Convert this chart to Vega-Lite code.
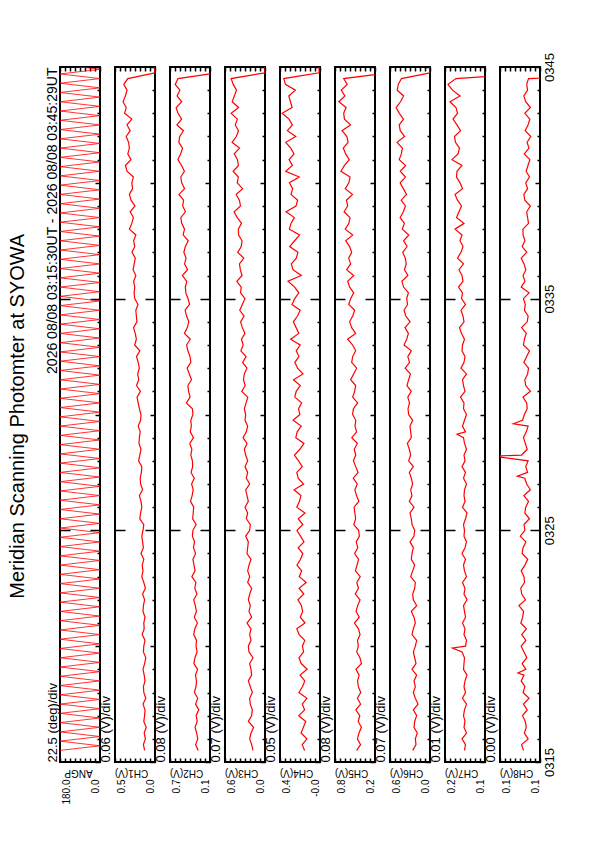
{
  "$schema": "https://vega.github.io/schema/vega-lite/v6.json",
  "background": "white",
  "padding": {"left": 7, "top": 51, "right": 5, "bottom": 5},
  "title": {"text": "Meridian Scanning Photomter at SYOWA", "orient": "left", "anchor": "middle", "fontSize": 20, "font": "Liberation Sans", "fontWeight": "normal", "color": "black", "offset": 16, "dx": 12},
  "spacing": 15,
  "bounds": "flush",
  "datasets": {
    "angp": [
      {"t":15.5,"v":180},{"t":15.7,"v":0},{"t":15.9,"v":180},
      {"t":16.1,"v":0},{"t":16.3,"v":180},{"t":16.5,"v":0},{"t":16.7,"v":180},{"t":16.9,"v":0},
      {"t":17.1,"v":180},{"t":17.3,"v":0},{"t":17.5,"v":180},{"t":17.7,"v":0},{"t":17.9,"v":180},
      {"t":18.1,"v":0},{"t":18.3,"v":180},{"t":18.5,"v":0},{"t":18.7,"v":180},{"t":18.9,"v":0},
      {"t":19.1,"v":180},{"t":19.3,"v":0},{"t":19.5,"v":180},{"t":19.7,"v":0},{"t":19.9,"v":180},
      {"t":20.1,"v":0},{"t":20.3,"v":180},{"t":20.5,"v":0},{"t":20.7,"v":180},{"t":20.9,"v":0},
      {"t":21.1,"v":180},{"t":21.3,"v":0},{"t":21.5,"v":180},{"t":21.7,"v":0},{"t":21.9,"v":180},
      {"t":22.1,"v":0},{"t":22.3,"v":180},{"t":22.5,"v":0},{"t":22.7,"v":180},{"t":22.9,"v":0},
      {"t":23.1,"v":180},{"t":23.3,"v":0},{"t":23.5,"v":180},{"t":23.7,"v":0},{"t":23.9,"v":180},
      {"t":24.1,"v":0},{"t":24.3,"v":180},{"t":24.5,"v":0},{"t":24.7,"v":180},{"t":24.9,"v":0},
      {"t":25.1,"v":180},{"t":25.3,"v":0},{"t":25.5,"v":180},{"t":25.7,"v":0},{"t":25.9,"v":180},
      {"t":26.1,"v":0},{"t":26.3,"v":180},{"t":26.5,"v":0},{"t":26.7,"v":180},{"t":26.9,"v":0},
      {"t":27.1,"v":180},{"t":27.3,"v":0},{"t":27.5,"v":180},{"t":27.7,"v":0},{"t":27.9,"v":180},
      {"t":28.1,"v":0},{"t":28.3,"v":180},{"t":28.5,"v":0},{"t":28.7,"v":180},{"t":28.9,"v":0},
      {"t":29.1,"v":180},{"t":29.3,"v":0},{"t":29.5,"v":180},{"t":29.7,"v":0},{"t":29.9,"v":180},
      {"t":30.1,"v":0},{"t":30.3,"v":180},{"t":30.5,"v":0},{"t":30.7,"v":180},{"t":30.9,"v":0},
      {"t":31.1,"v":180},{"t":31.3,"v":0},{"t":31.5,"v":180},{"t":31.7,"v":0},{"t":31.9,"v":180},
      {"t":32.1,"v":0},{"t":32.3,"v":180},{"t":32.5,"v":0},{"t":32.7,"v":180},{"t":32.9,"v":0},
      {"t":33.1,"v":180},{"t":33.3,"v":0},{"t":33.5,"v":180},{"t":33.7,"v":0},{"t":33.9,"v":180},
      {"t":34.1,"v":0},{"t":34.3,"v":180},{"t":34.5,"v":0},{"t":34.7,"v":180},{"t":34.9,"v":0},
      {"t":35.1,"v":180},{"t":35.3,"v":0},{"t":35.5,"v":180},{"t":35.7,"v":0},{"t":35.9,"v":180},
      {"t":36.1,"v":0},{"t":36.3,"v":180},{"t":36.5,"v":0},{"t":36.7,"v":180},{"t":36.9,"v":0},
      {"t":37.1,"v":180},{"t":37.3,"v":0},{"t":37.5,"v":180},{"t":37.7,"v":0},{"t":37.9,"v":180},
      {"t":38.1,"v":0},{"t":38.3,"v":180},{"t":38.5,"v":0},{"t":38.7,"v":180},{"t":38.9,"v":0},
      {"t":39.1,"v":180},{"t":39.3,"v":0},{"t":39.5,"v":180},{"t":39.7,"v":0},{"t":39.9,"v":180},
      {"t":40.1,"v":0},{"t":40.3,"v":180},{"t":40.5,"v":0},{"t":40.7,"v":180},{"t":40.9,"v":0},
      {"t":41.1,"v":180},{"t":41.3,"v":0},{"t":41.5,"v":180},{"t":41.7,"v":0},{"t":41.9,"v":180},
      {"t":42.1,"v":0},{"t":42.3,"v":180},{"t":42.5,"v":0},{"t":42.7,"v":180},{"t":42.9,"v":0},
      {"t":43.1,"v":180},{"t":43.3,"v":0},{"t":43.5,"v":180},{"t":43.7,"v":0},{"t":43.9,"v":180},
      {"t":44.1,"v":0},{"t":44.3,"v":180},{"t":44.5,"v":0},{"t":44.7,"v":180},{"t":44.9,"v":0},
      {"t":45.1,"v":180},{"t":45.3,"v":0},{"t":45.5,"v":180}
    ],
    "ch1": [
      {"t":15.5,"v":0.13},{"t":15.75,"v":0.145},{"t":16,"v":0.12},{"t":16.25,"v":0.135},{"t":16.5,"v":0.11},{"t":16.75,"v":0.14},{"t":17,"v":0.13},{"t":17.25,"v":0.125},{"t":17.5,"v":0.15},{"t":17.75,"v":0.115},
      {"t":18,"v":0.14},{"t":18.25,"v":0.145},{"t":18.5,"v":0.125},{"t":18.75,"v":0.135},{"t":19,"v":0.15},{"t":19.25,"v":0.13},{"t":19.5,"v":0.115},{"t":19.75,"v":0.145},{"t":20,"v":0.14},{"t":20.25,"v":0.125},
      {"t":20.5,"v":0.16},{"t":20.75,"v":0.135},{"t":21,"v":0.14},{"t":21.25,"v":0.125},{"t":21.5,"v":0.15},{"t":21.75,"v":0.145},{"t":22,"v":0.13},{"t":22.25,"v":0.155},{"t":22.5,"v":0.12},{"t":22.75,"v":0.14},
      {"t":23,"v":0.165},{"t":23.25,"v":0.15},{"t":23.5,"v":0.16},{"t":23.75,"v":0.14},{"t":24,"v":0.175},{"t":24.25,"v":0.145},{"t":24.5,"v":0.155},{"t":24.75,"v":0.165},{"t":25,"v":0.15},{"t":25.25,"v":0.14},
      {"t":25.5,"v":0.19},{"t":25.75,"v":0.18},{"t":26,"v":0.165},{"t":26.25,"v":0.175},{"t":26.5,"v":0.195},{"t":26.75,"v":0.155},{"t":27,"v":0.18},{"t":27.25,"v":0.185},{"t":27.5,"v":0.17},{"t":27.75,"v":0.165},
      {"t":28,"v":0.205},{"t":28.25,"v":0.19},{"t":28.5,"v":0.175},{"t":28.75,"v":0.2},{"t":29,"v":0.195},{"t":29.25,"v":0.185},{"t":29.5,"v":0.21},{"t":29.75,"v":0.18},{"t":30,"v":0.175},{"t":30.25,"v":0.195},
      {"t":30.5,"v":0.21},{"t":30.75,"v":0.224},{"t":31,"v":0.182},{"t":31.25,"v":0.231},{"t":31.5,"v":0.203},{"t":31.75,"v":0.217},{"t":32,"v":0.196},{"t":32.25,"v":0.21},{"t":32.5,"v":0.231},{"t":32.75,"v":0.189},
      {"t":33,"v":0.254},{"t":33.25,"v":0.233},{"t":33.5,"v":0.247},{"t":33.75,"v":0.268},{"t":34,"v":0.226},{"t":34.25,"v":0.233},{"t":34.5,"v":0.24},{"t":34.75,"v":0.212},{"t":35,"v":0.254},{"t":35.25,"v":0.261},
      {"t":35.5,"v":0.253},{"t":35.75,"v":0.267},{"t":36,"v":0.239},{"t":36.25,"v":0.274},{"t":36.5,"v":0.26},{"t":36.75,"v":0.246},{"t":37,"v":0.288},{"t":37.25,"v":0.253},{"t":37.5,"v":0.267},{"t":37.75,"v":0.239},
      {"t":38,"v":0.32},{"t":38.25,"v":0.29},{"t":38.5,"v":0.27},{"t":38.75,"v":0.31},{"t":39,"v":0.25},{"t":39.25,"v":0.3},{"t":39.5,"v":0.32},{"t":39.75,"v":0.28},{"t":40,"v":0.29},{"t":40.25,"v":0.27},
      {"t":40.5,"v":0.35},{"t":40.75,"v":0.37},{"t":41,"v":0.3},{"t":41.25,"v":0.34},{"t":41.5,"v":0.32},{"t":41.75,"v":0.33},{"t":42,"v":0.36},{"t":42.25,"v":0.31},{"t":42.5,"v":0.35},{"t":42.75,"v":0.29},
      {"t":43,"v":0.38},{"t":43.25,"v":0.36},{"t":43.5,"v":0.4},{"t":43.75,"v":0.37},{"t":44,"v":0.35},{"t":44.25,"v":0.39},{"t":44.5,"v":0.34},
      {"t":44.75,"v":0},{"t":45,"v":0},{"t":45.25,"v":0},{"t":45.5,"v":0}
    ],
    "ch2": [
      {"t":15.5,"v":0.276},{"t":15.75,"v":0.316},{"t":16,"v":0.284},{"t":16.25,"v":0.3},{"t":16.5,"v":0.324},{"t":16.75,"v":0.292},{"t":17,"v":0.308},{"t":17.25,"v":0.268},{"t":17.5,"v":0.316},{"t":17.75,"v":0.284},
      {"t":18,"v":0.334},{"t":18.25,"v":0.31},{"t":18.5,"v":0.302},{"t":18.75,"v":0.318},{"t":19,"v":0.286},{"t":19.25,"v":0.342},{"t":19.5,"v":0.326},{"t":19.75,"v":0.294},{"t":20,"v":0.31},{"t":20.25,"v":0.302},
      {"t":20.5,"v":0.344},{"t":20.75,"v":0.328},{"t":21,"v":0.288},{"t":21.25,"v":0.336},{"t":21.5,"v":0.304},{"t":21.75,"v":0.32},{"t":22,"v":0.344},{"t":22.25,"v":0.296},{"t":22.5,"v":0.328},{"t":22.75,"v":0.312},
      {"t":23,"v":0.372},{"t":23.25,"v":0.324},{"t":23.5,"v":0.34},{"t":23.75,"v":0.356},{"t":24,"v":0.316},{"t":24.25,"v":0.348},{"t":24.5,"v":0.332},{"t":24.75,"v":0.364},{"t":25,"v":0.356},{"t":25.25,"v":0.308},
      {"t":25.5,"v":0.36},{"t":25.75,"v":0.352},{"t":26,"v":0.344},{"t":26.25,"v":0.392},{"t":26.5,"v":0.368},{"t":26.75,"v":0.352},{"t":27,"v":0.376},{"t":27.25,"v":0.336},{"t":27.5,"v":0.384},{"t":27.75,"v":0.36},
      {"t":28,"v":0.364},{"t":28.25,"v":0.388},{"t":28.5,"v":0.372},{"t":28.75,"v":0.404},{"t":29,"v":0.348},{"t":29.25,"v":0.396},{"t":29.5,"v":0.38},{"t":29.75,"v":0.388},{"t":30,"v":0.356},{"t":30.25,"v":0.364},
      {"t":30.5,"v":0.454},{"t":30.75,"v":0.399},{"t":31,"v":0.421},{"t":31.25,"v":0.432},{"t":31.5,"v":0.377},{"t":31.75,"v":0.41},{"t":32,"v":0.443},{"t":32.25,"v":0.388},{"t":32.5,"v":0.399},{"t":32.75,"v":0.432},
      {"t":33,"v":0.451},{"t":33.25,"v":0.396},{"t":33.5,"v":0.484},{"t":33.75,"v":0.44},{"t":34,"v":0.418},{"t":34.25,"v":0.451},{"t":34.5,"v":0.473},{"t":34.75,"v":0.407},{"t":35,"v":0.429},{"t":35.25,"v":0.462},
      {"t":35.5,"v":0.47},{"t":35.75,"v":0.448},{"t":36,"v":0.514},{"t":36.25,"v":0.437},{"t":36.5,"v":0.481},{"t":36.75,"v":0.459},{"t":37,"v":0.492},{"t":37.25,"v":0.47},{"t":37.5,"v":0.426},{"t":37.75,"v":0.503},
      {"t":38,"v":0.482},{"t":38.25,"v":0.524},{"t":38.5,"v":0.538},{"t":38.75,"v":0.468},{"t":39,"v":0.51},{"t":39.25,"v":0.496},{"t":39.5,"v":0.566},{"t":39.75,"v":0.482},{"t":40,"v":0.524},{"t":40.25,"v":0.538},
      {"t":40.5,"v":0.484},{"t":40.75,"v":0.526},{"t":41,"v":0.582},{"t":41.25,"v":0.54},{"t":41.5,"v":0.512},{"t":41.75,"v":0.568},{"t":42,"v":0.554},{"t":42.25,"v":0.498},{"t":42.5,"v":0.596},{"t":42.75,"v":0.526},
      {"t":43,"v":0.58},{"t":43.25,"v":0.608},{"t":43.5,"v":0.524},{"t":43.75,"v":0.594},{"t":44,"v":0.552},{"t":44.25,"v":0.622},{"t":44.5,"v":0.58},
      {"t":44.75,"v":0},{"t":45,"v":0},{"t":45.25,"v":0},{"t":45.5,"v":0}
    ],
    "ch3": [
      {"t":15.5,"v":0.18},{"t":15.75,"v":0.2},{"t":16,"v":0.23},{"t":16.25,"v":0.21},{"t":16.5,"v":0.17},{"t":16.75,"v":0.25},{"t":17,"v":0.2},{"t":17.25,"v":0.19},{"t":17.5,"v":0.22},{"t":17.75,"v":0.23},
      {"t":18,"v":0.19},{"t":18.25,"v":0.22},{"t":18.5,"v":0.25},{"t":18.75,"v":0.2},{"t":19,"v":0.21},{"t":19.25,"v":0.23},{"t":19.5,"v":0.18},{"t":19.75,"v":0.24},{"t":20,"v":0.25},{"t":20.25,"v":0.21},
      {"t":20.5,"v":0.23},{"t":20.75,"v":0.21},{"t":21,"v":0.27},{"t":21.25,"v":0.2},{"t":21.5,"v":0.24},{"t":21.75,"v":0.22},{"t":22,"v":0.25},{"t":22.25,"v":0.23},{"t":22.5,"v":0.2},{"t":22.75,"v":0.26},
      {"t":23,"v":0.23},{"t":23.25,"v":0.26},{"t":23.5,"v":0.24},{"t":23.75,"v":0.21},{"t":24,"v":0.27},{"t":24.25,"v":0.26},{"t":24.5,"v":0.25},{"t":24.75,"v":0.29},{"t":25,"v":0.23},{"t":25.25,"v":0.22},
      {"t":25.5,"v":0.28},{"t":25.75,"v":0.26},{"t":26,"v":0.3},{"t":26.25,"v":0.25},{"t":26.5,"v":0.27},{"t":26.75,"v":0.29},{"t":27,"v":0.23},{"t":27.25,"v":0.28},{"t":27.5,"v":0.26},{"t":27.75,"v":0.3},
      {"t":28,"v":0.26},{"t":28.25,"v":0.29},{"t":28.5,"v":0.31},{"t":28.75,"v":0.27},{"t":29,"v":0.33},{"t":29.25,"v":0.28},{"t":29.5,"v":0.26},{"t":29.75,"v":0.3},{"t":30,"v":0.29},{"t":30.25,"v":0.31},
      {"t":30.5,"v":0.284},{"t":30.75,"v":0.258},{"t":31,"v":0.349},{"t":31.25,"v":0.297},{"t":31.5,"v":0.323},{"t":31.75,"v":0.31},{"t":32,"v":0.271},{"t":32.25,"v":0.336},{"t":32.5,"v":0.284},{"t":32.75,"v":0.362},
      {"t":33,"v":0.327},{"t":33.25,"v":0.353},{"t":33.5,"v":0.301},{"t":33.75,"v":0.34},{"t":34,"v":0.366},{"t":34.25,"v":0.314},{"t":34.5,"v":0.379},{"t":34.75,"v":0.34},{"t":35,"v":0.301},{"t":35.25,"v":0.366},
      {"t":35.5,"v":0.357},{"t":35.75,"v":0.422},{"t":36,"v":0.344},{"t":36.25,"v":0.37},{"t":36.5,"v":0.383},{"t":36.75,"v":0.318},{"t":37,"v":0.409},{"t":37.25,"v":0.357},{"t":37.5,"v":0.344},{"t":37.75,"v":0.396},
      {"t":38,"v":0.4},{"t":38.25,"v":0.352},{"t":38.5,"v":0.416},{"t":38.75,"v":0.464},{"t":39,"v":0.368},{"t":39.25,"v":0.384},{"t":39.5,"v":0.432},{"t":39.75,"v":0.336},{"t":40,"v":0.416},{"t":40.25,"v":0.4},
      {"t":40.5,"v":0.478},{"t":40.75,"v":0.398},{"t":41,"v":0.414},{"t":41.25,"v":0.462},{"t":41.5,"v":0.382},{"t":41.75,"v":0.494},{"t":42,"v":0.43},{"t":42.25,"v":0.398},{"t":42.5,"v":0.446},{"t":42.75,"v":0.414},
      {"t":43,"v":0.508},{"t":43.25,"v":0.396},{"t":43.5,"v":0.492},{"t":43.75,"v":0.46},{"t":44,"v":0.428},{"t":44.25,"v":0.476},{"t":44.5,"v":0.508},
      {"t":44.75,"v":0},{"t":45,"v":0},{"t":45.25,"v":0},{"t":45.5,"v":0}
    ],
    "ch4": [
      {"t":15.5,"v":0.148},{"t":15.75,"v":0.172},{"t":16,"v":0.124},{"t":16.25,"v":0.184},{"t":16.5,"v":0.16},{"t":16.75,"v":0.136},{"t":17,"v":0.208},{"t":17.25,"v":0.148},{"t":17.5,"v":0.172},{"t":17.75,"v":0.124},
      {"t":18,"v":0.206},{"t":18.25,"v":0.17},{"t":18.5,"v":0.146},{"t":18.75,"v":0.194},{"t":19,"v":0.122},{"t":19.25,"v":0.182},{"t":19.5,"v":0.206},{"t":19.75,"v":0.158},{"t":20,"v":0.17},{"t":20.25,"v":0.146},
      {"t":20.5,"v":0.204},{"t":20.75,"v":0.228},{"t":21,"v":0.144},{"t":21.25,"v":0.192},{"t":21.5,"v":0.168},{"t":21.75,"v":0.18},{"t":22,"v":0.216},{"t":22.25,"v":0.156},{"t":22.5,"v":0.204},{"t":22.75,"v":0.132},
      {"t":23,"v":0.202},{"t":23.25,"v":0.178},{"t":23.5,"v":0.226},{"t":23.75,"v":0.19},{"t":24,"v":0.166},{"t":24.25,"v":0.214},{"t":24.5,"v":0.154},{"t":24.75,"v":0.19},{"t":25,"v":0.226},{"t":25.25,"v":0.166},
      {"t":25.5,"v":0.214},{"t":25.75,"v":0.144},{"t":26,"v":0.228},{"t":26.25,"v":0.2},{"t":26.5,"v":0.186},{"t":26.75,"v":0.256},{"t":27,"v":0.158},{"t":27.25,"v":0.214},{"t":27.5,"v":0.228},{"t":27.75,"v":0.172},
      {"t":28,"v":0.21},{"t":28.25,"v":0.252},{"t":28.5,"v":0.196},{"t":28.75,"v":0.154},{"t":29,"v":0.238},{"t":29.25,"v":0.224},{"t":29.5,"v":0.182},{"t":29.75,"v":0.266},{"t":30,"v":0.196},{"t":30.25,"v":0.21},
      {"t":30.5,"v":0.178},{"t":30.75,"v":0.248},{"t":31,"v":0.234},{"t":31.25,"v":0.192},{"t":31.5,"v":0.262},{"t":31.75,"v":0.164},{"t":32,"v":0.22},{"t":32.25,"v":0.248},{"t":32.5,"v":0.206},{"t":32.75,"v":0.234},
      {"t":33,"v":0.193},{"t":33.25,"v":0.291},{"t":33.5,"v":0.207},{"t":33.75,"v":0.235},{"t":34,"v":0.263},{"t":34.25,"v":0.221},{"t":34.5,"v":0.193},{"t":34.75,"v":0.277},{"t":35,"v":0.249},{"t":35.25,"v":0.207},
      {"t":35.5,"v":0.25},{"t":35.75,"v":0.318},{"t":36,"v":0.182},{"t":36.25,"v":0.267},{"t":36.5,"v":0.284},{"t":36.75,"v":0.233},{"t":37,"v":0.216},{"t":37.25,"v":0.301},{"t":37.5,"v":0.25},{"t":37.75,"v":0.199},
      {"t":38,"v":0.304},{"t":38.25,"v":0.287},{"t":38.5,"v":0.253},{"t":38.75,"v":0.338},{"t":39,"v":0.236},{"t":39.25,"v":0.219},{"t":39.5,"v":0.287},{"t":39.75,"v":0.27},{"t":40,"v":0.304},{"t":40.25,"v":0.202},
      {"t":40.5,"v":0.341},{"t":40.75,"v":0.273},{"t":41,"v":0.307},{"t":41.25,"v":0.256},{"t":41.5,"v":0.29},{"t":41.75,"v":0.341},{"t":42,"v":0.239},{"t":42.25,"v":0.324},{"t":42.5,"v":0.273},{"t":42.75,"v":0.307},
      {"t":43,"v":0.378},{"t":43.25,"v":0.276},{"t":43.5,"v":0.293},{"t":43.75,"v":0.31},{"t":44,"v":0.242},{"t":44.25,"v":0.344},{"t":44.5,"v":0.361},
      {"t":44.75,"v":0},{"t":45,"v":0},{"t":45.25,"v":0},{"t":45.5,"v":0}
    ],
    "ch5": [
      {"t":15.5,"v":0.476},{"t":15.75,"v":0.416},{"t":16,"v":0.464},{"t":16.25,"v":0.44},{"t":16.5,"v":0.404},{"t":16.75,"v":0.452},{"t":17,"v":0.428},{"t":17.25,"v":0.488},{"t":17.5,"v":0.416},{"t":17.75,"v":0.464},
      {"t":18,"v":0.414},{"t":18.25,"v":0.45},{"t":18.5,"v":0.462},{"t":18.75,"v":0.438},{"t":19,"v":0.486},{"t":19.25,"v":0.402},{"t":19.5,"v":0.426},{"t":19.75,"v":0.474},{"t":20,"v":0.45},{"t":20.25,"v":0.462},
      {"t":20.5,"v":0.424},{"t":20.75,"v":0.448},{"t":21,"v":0.508},{"t":21.25,"v":0.436},{"t":21.5,"v":0.484},{"t":21.75,"v":0.46},{"t":22,"v":0.424},{"t":22.25,"v":0.496},{"t":22.5,"v":0.448},{"t":22.75,"v":0.472},
      {"t":23,"v":0.422},{"t":23.25,"v":0.494},{"t":23.5,"v":0.47},{"t":23.75,"v":0.446},{"t":24,"v":0.506},{"t":24.25,"v":0.458},{"t":24.5,"v":0.482},{"t":24.75,"v":0.434},{"t":25,"v":0.446},{"t":25.25,"v":0.518},
      {"t":25.5,"v":0.49},{"t":25.75,"v":0.502},{"t":26,"v":0.514},{"t":26.25,"v":0.442},{"t":26.5,"v":0.478},{"t":26.75,"v":0.502},{"t":27,"v":0.466},{"t":27.25,"v":0.526},{"t":27.5,"v":0.454},{"t":27.75,"v":0.49},
      {"t":28,"v":0.524},{"t":28.25,"v":0.488},{"t":28.5,"v":0.512},{"t":28.75,"v":0.464},{"t":29,"v":0.548},{"t":29.25,"v":0.476},{"t":29.5,"v":0.5},{"t":29.75,"v":0.488},{"t":30,"v":0.536},{"t":30.25,"v":0.524},
      {"t":30.5,"v":0.46},{"t":30.75,"v":0.535},{"t":31,"v":0.505},{"t":31.25,"v":0.49},{"t":31.5,"v":0.565},{"t":31.75,"v":0.52},{"t":32,"v":0.475},{"t":32.25,"v":0.55},{"t":32.5,"v":0.535},{"t":32.75,"v":0.49},
      {"t":33,"v":0.535},{"t":33.25,"v":0.61},{"t":33.5,"v":0.49},{"t":33.75,"v":0.55},{"t":34,"v":0.58},{"t":34.25,"v":0.535},{"t":34.5,"v":0.505},{"t":34.75,"v":0.595},{"t":35,"v":0.565},{"t":35.25,"v":0.52},
      {"t":35.5,"v":0.58},{"t":35.75,"v":0.61},{"t":36,"v":0.52},{"t":36.25,"v":0.625},{"t":36.5,"v":0.565},{"t":36.75,"v":0.595},{"t":37,"v":0.55},{"t":37.25,"v":0.58},{"t":37.5,"v":0.64},{"t":37.75,"v":0.535},
      {"t":38,"v":0.646},{"t":38.25,"v":0.592},{"t":38.5,"v":0.574},{"t":38.75,"v":0.664},{"t":39,"v":0.61},{"t":39.25,"v":0.628},{"t":39.5,"v":0.538},{"t":39.75,"v":0.646},{"t":40,"v":0.592},{"t":40.25,"v":0.574},
      {"t":40.5,"v":0.712},{"t":40.75,"v":0.658},{"t":41,"v":0.586},{"t":41.25,"v":0.64},{"t":41.5,"v":0.676},{"t":41.75,"v":0.604},{"t":42,"v":0.622},{"t":42.25,"v":0.694},{"t":42.5,"v":0.568},{"t":42.75,"v":0.658},
      {"t":43,"v":0.67},{"t":43.25,"v":0.634},{"t":43.5,"v":0.742},{"t":43.75,"v":0.652},{"t":44,"v":0.706},{"t":44.25,"v":0.616},{"t":44.5,"v":0.67},
      {"t":44.75,"v":0},{"t":45,"v":0},{"t":45.25,"v":0},{"t":45.5,"v":0}
    ],
    "ch6": [
      {"t":15.5,"v":0.26},{"t":15.75,"v":0.21},{"t":16,"v":0.22},{"t":16.25,"v":0.19},{"t":16.5,"v":0.24},{"t":16.75,"v":0.23},{"t":17,"v":0.2},{"t":17.25,"v":0.25},{"t":17.5,"v":0.18},{"t":17.75,"v":0.22},
      {"t":18,"v":0.25},{"t":18.25,"v":0.22},{"t":18.5,"v":0.24},{"t":18.75,"v":0.2},{"t":19,"v":0.27},{"t":19.25,"v":0.21},{"t":19.5,"v":0.23},{"t":19.75,"v":0.25},{"t":20,"v":0.22},{"t":20.25,"v":0.2},
      {"t":20.5,"v":0.27},{"t":20.75,"v":0.25},{"t":21,"v":0.22},{"t":21.25,"v":0.24},{"t":21.5,"v":0.28},{"t":21.75,"v":0.2},{"t":22,"v":0.25},{"t":22.25,"v":0.26},{"t":22.5,"v":0.23},{"t":22.75,"v":0.22},
      {"t":23,"v":0.29},{"t":23.25,"v":0.26},{"t":23.5,"v":0.23},{"t":23.75,"v":0.28},{"t":24,"v":0.27},{"t":24.25,"v":0.25},{"t":24.5,"v":0.3},{"t":24.75,"v":0.24},{"t":25,"v":0.23},{"t":25.25,"v":0.27},
      {"t":25.5,"v":0.28},{"t":25.75,"v":0.3},{"t":26,"v":0.24},{"t":26.25,"v":0.31},{"t":26.5,"v":0.27},{"t":26.75,"v":0.29},{"t":27,"v":0.26},{"t":27.25,"v":0.28},{"t":27.5,"v":0.31},{"t":27.75,"v":0.25},
      {"t":28,"v":0.32},{"t":28.25,"v":0.29},{"t":28.5,"v":0.31},{"t":28.75,"v":0.34},{"t":29,"v":0.28},{"t":29.25,"v":0.29},{"t":29.5,"v":0.3},{"t":29.75,"v":0.26},{"t":30,"v":0.32},{"t":30.25,"v":0.33},
      {"t":30.5,"v":0.307},{"t":30.75,"v":0.333},{"t":31,"v":0.281},{"t":31.25,"v":0.346},{"t":31.5,"v":0.32},{"t":31.75,"v":0.294},{"t":32,"v":0.372},{"t":32.25,"v":0.307},{"t":32.5,"v":0.333},{"t":32.75,"v":0.281},
      {"t":33,"v":0.389},{"t":33.25,"v":0.35},{"t":33.5,"v":0.324},{"t":33.75,"v":0.376},{"t":34,"v":0.298},{"t":34.25,"v":0.363},{"t":34.5,"v":0.389},{"t":34.75,"v":0.337},{"t":35,"v":0.35},{"t":35.25,"v":0.324},
      {"t":35.5,"v":0.396},{"t":35.75,"v":0.422},{"t":36,"v":0.331},{"t":36.25,"v":0.383},{"t":36.5,"v":0.357},{"t":36.75,"v":0.37},{"t":37,"v":0.409},{"t":37.25,"v":0.344},{"t":37.5,"v":0.396},{"t":37.75,"v":0.318},
      {"t":38,"v":0.416},{"t":38.25,"v":0.384},{"t":38.5,"v":0.448},{"t":38.75,"v":0.4},{"t":39,"v":0.368},{"t":39.25,"v":0.432},{"t":39.5,"v":0.352},{"t":39.75,"v":0.4},{"t":40,"v":0.448},{"t":40.25,"v":0.368},
      {"t":40.5,"v":0.446},{"t":40.75,"v":0.366},{"t":41,"v":0.462},{"t":41.25,"v":0.43},{"t":41.5,"v":0.414},{"t":41.75,"v":0.494},{"t":42,"v":0.382},{"t":42.25,"v":0.446},{"t":42.5,"v":0.462},{"t":42.75,"v":0.398},
      {"t":43,"v":0.46},{"t":43.25,"v":0.508},{"t":43.5,"v":0.444},{"t":43.75,"v":0.396},{"t":44,"v":0.492},{"t":44.25,"v":0.476},{"t":44.5,"v":0.428},
      {"t":44.75,"v":0},{"t":45,"v":0},{"t":45.25,"v":0},{"t":45.5,"v":0}
    ],
    "ch7": [
      {"t":15.5,"v":0.151},{"t":15.75,"v":0.149},{"t":16,"v":0.156},{"t":16.25,"v":0.147},{"t":16.5,"v":0.152},{"t":16.75,"v":0.15},{"t":17,"v":0.153},{"t":17.25,"v":0.151},{"t":17.5,"v":0.147},{"t":17.75,"v":0.155},
      {"t":18,"v":0.149},{"t":18.25,"v":0.152},{"t":18.5,"v":0.15},{"t":18.75,"v":0.146},{"t":19,"v":0.153},{"t":19.25,"v":0.152},{"t":19.5,"v":0.151},{"t":19.75,"v":0.156},{"t":19.92,"v":0.175},{"t":20,"v":0.149},{"t":20.25,"v":0.147},
      {"t":20.5,"v":0.152},{"t":20.75,"v":0.15},{"t":21,"v":0.155},{"t":21.25,"v":0.149},{"t":21.5,"v":0.151},{"t":21.75,"v":0.153},{"t":22,"v":0.146},{"t":22.25,"v":0.152},{"t":22.5,"v":0.15},{"t":22.75,"v":0.155},
      {"t":23,"v":0.147},{"t":23.25,"v":0.151},{"t":23.5,"v":0.153},{"t":23.75,"v":0.149},{"t":24,"v":0.156},{"t":24.25,"v":0.15},{"t":24.5,"v":0.147},{"t":24.75,"v":0.152},{"t":25,"v":0.151},{"t":25.25,"v":0.153},
      {"t":25.5,"v":0.149},{"t":25.75,"v":0.146},{"t":26,"v":0.155},{"t":26.25,"v":0.15},{"t":26.5,"v":0.152},{"t":26.75,"v":0.151},{"t":27,"v":0.147},{"t":27.25,"v":0.153},{"t":27.5,"v":0.149},{"t":27.75,"v":0.156},
      {"t":28,"v":0.15},{"t":28.25,"v":0.152},{"t":28.5,"v":0.147},{"t":28.75,"v":0.151},{"t":29,"v":0.153},{"t":29.15,"v":0.166},{"t":29.25,"v":0.149},{"t":29.5,"v":0.155},{"t":29.75,"v":0.151},{"t":30,"v":0.147},{"t":30.25,"v":0.153},
      {"t":30.5,"v":0.152},{"t":30.75,"v":0.159},{"t":31,"v":0.15},{"t":31.25,"v":0.153},{"t":31.5,"v":0.155},{"t":31.75,"v":0.147},{"t":32,"v":0.158},{"t":32.25,"v":0.152},{"t":32.5,"v":0.15},{"t":32.75,"v":0.156},
      {"t":33,"v":0.155},{"t":33.25,"v":0.151},{"t":33.5,"v":0.157},{"t":33.75,"v":0.161},{"t":34,"v":0.152},{"t":34.25,"v":0.154},{"t":34.5,"v":0.158},{"t":34.75,"v":0.149},{"t":35,"v":0.157},{"t":35.25,"v":0.155},
      {"t":35.5,"v":0.163},{"t":35.75,"v":0.154},{"t":36,"v":0.156},{"t":36.25,"v":0.162},{"t":36.5,"v":0.153},{"t":36.75,"v":0.165},{"t":37,"v":0.158},{"t":37.25,"v":0.154},{"t":37.5,"v":0.16},{"t":37.75,"v":0.156},
      {"t":38,"v":0.17},{"t":38.25,"v":0.152},{"t":38.5,"v":0.167},{"t":38.75,"v":0.162},{"t":39,"v":0.157},{"t":39.25,"v":0.165},{"t":39.5,"v":0.17},{"t":39.75,"v":0.155},{"t":40,"v":0.16},{"t":40.25,"v":0.167},
      {"t":40.5,"v":0.166},{"t":40.75,"v":0.156},{"t":41,"v":0.176},{"t":41.25,"v":0.164},{"t":41.5,"v":0.161},{"t":41.75,"v":0.169},{"t":42,"v":0.171},{"t":42.25,"v":0.159},{"t":42.5,"v":0.166},{"t":42.75,"v":0.174},
      {"t":43,"v":0.165},{"t":43.25,"v":0.168},{"t":43.5,"v":0.18},{"t":43.75,"v":0.16},{"t":44,"v":0.175},{"t":44.25,"v":0.184},{"t":44.5,"v":0.168},
      {"t":44.75,"v":0},{"t":45,"v":0},{"t":45.25,"v":0},{"t":45.5,"v":0}
    ],
    "ch8": [
      {"t":15.5,"v":0.1124},{"t":15.75,"v":0.1138},{"t":16,"v":0.1089},{"t":16.25,"v":0.1117},{"t":16.5,"v":0.1103},{"t":16.75,"v":0.111},{"t":17,"v":0.1131},{"t":17.25,"v":0.1096},{"t":17.5,"v":0.1124},{"t":17.75,"v":0.1082},
      {"t":18,"v":0.1127},{"t":18.25,"v":0.1113},{"t":18.5,"v":0.1141},{"t":18.75,"v":0.112},{"t":18.84,"v":0.1165},{"t":19,"v":0.1106},{"t":19.25,"v":0.1134},{"t":19.5,"v":0.1099},{"t":19.75,"v":0.112},{"t":20,"v":0.1141},{"t":20.25,"v":0.1106},
      {"t":20.5,"v":0.1137},{"t":20.75,"v":0.1102},{"t":21,"v":0.1144},{"t":21.25,"v":0.113},{"t":21.5,"v":0.1123},{"t":21.75,"v":0.1158},{"t":22,"v":0.1109},{"t":22.25,"v":0.1137},{"t":22.5,"v":0.1144},{"t":22.75,"v":0.1116},
      {"t":23,"v":0.112},{"t":23.25,"v":0.1141},{"t":23.5,"v":0.1113},{"t":23.75,"v":0.1092},{"t":24,"v":0.1134},{"t":24.25,"v":0.1127},{"t":24.5,"v":0.1106},{"t":24.75,"v":0.1148},{"t":25,"v":0.1113},{"t":25.25,"v":0.112},
      {"t":25.5,"v":0.1079},{"t":25.75,"v":0.1114},{"t":26,"v":0.1107},{"t":26.25,"v":0.1086},{"t":26.5,"v":0.1121},{"t":26.75,"v":0.1072},{"t":27,"v":0.11},{"t":27.25,"v":0.1114},{"t":27.34,"v":0.117},{"t":27.5,"v":0.1093},{"t":27.75,"v":0.1107},
      {"t":28,"v":0.1089},{"t":28.2,"v":0.135},{"t":28.25,"v":0.1138},{"t":28.5,"v":0.1096},{"t":28.75,"v":0.111},{"t":29,"v":0.1124},{"t":29.25,"v":0.1103},{"t":29.5,"v":0.1089},{"t":29.6,"v":0.12},{"t":29.75,"v":0.1131},{"t":30,"v":0.1117},{"t":30.25,"v":0.1096},
      {"t":30.5,"v":0.11},{"t":30.75,"v":0.1128},{"t":31,"v":0.1072},{"t":31.25,"v":0.1107},{"t":31.5,"v":0.1114},{"t":31.75,"v":0.1093},{"t":32,"v":0.1086},{"t":32.25,"v":0.1121},{"t":32.5,"v":0.11},{"t":32.75,"v":0.1079},
      {"t":33,"v":0.1124},{"t":33.25,"v":0.1117},{"t":33.5,"v":0.1103},{"t":33.75,"v":0.1138},{"t":34,"v":0.1096},{"t":34.25,"v":0.1089},{"t":34.5,"v":0.1117},{"t":34.75,"v":0.111},{"t":35,"v":0.1124},{"t":35.25,"v":0.1082},
      {"t":35.5,"v":0.1141},{"t":35.75,"v":0.1113},{"t":36,"v":0.1127},{"t":36.25,"v":0.1106},{"t":36.5,"v":0.112},{"t":36.75,"v":0.1141},{"t":37,"v":0.1099},{"t":37.25,"v":0.1134},{"t":37.5,"v":0.1113},{"t":37.75,"v":0.1127},
      {"t":38,"v":0.1128},{"t":38.25,"v":0.1086},{"t":38.5,"v":0.1093},{"t":38.75,"v":0.11},{"t":39,"v":0.1072},{"t":39.25,"v":0.1114},{"t":39.5,"v":0.1121},{"t":39.75,"v":0.1093},{"t":40,"v":0.1107},{"t":40.25,"v":0.1079},
      {"t":40.5,"v":0.1104},{"t":40.75,"v":0.109},{"t":41,"v":0.1076},{"t":41.25,"v":0.1118},{"t":41.5,"v":0.1083},{"t":41.75,"v":0.1097},{"t":42,"v":0.1069},{"t":42.25,"v":0.1111},{"t":42.5,"v":0.109},{"t":42.75,"v":0.1076},
      {"t":43,"v":0.1114},{"t":43.25,"v":0.1072},{"t":43.5,"v":0.1107},{"t":43.75,"v":0.1121},{"t":44,"v":0.1093},{"t":44.25,"v":0.11},{"t":44.5,"v":0.1086},
      {"t":44.75,"v":0},{"t":45,"v":0},{"t":45.25,"v":0},{"t":45.5,"v":0}
    ]
  },
  "hconcat": [
    {
      "width": 40, "height": 695, "data": {"name": "angp"},
      "layer": [
        {"mark": {"type": "line", "color": "#ff0000", "strokeWidth": 0.8, "clip": true},
         "encoding": {
           "x": {"field": "v", "type": "quantitative", "scale": {"domain": [0, 180], "reverse": true, "nice": false, "zero": false},
                 "axis": {"orient": "bottom", "values": [0, 22.5, 45, 67.5, 90, 112.5, 135, 157.5, 180], "tickSize": -4, "labelAngle": 270, "labelAlign": "right", "labelBaseline": "middle", "labelPadding": 21, "labelOffset": {"condition": {"test": "datum.value > 90", "value": 6}, "value": -5}, "labelExpr": "datum.value > 179 ? '180.0' : datum.value < 1 ? '0.0' : ''", "title": "ANGP", "titleAngle": 180, "titleFontSize": 10, "titleBaseline": "bottom", "titleX": 18, "titleY": 5}},
           "y": {"field": "t", "type": "quantitative", "scale": {"domain": [15, 45], "nice": false, "zero": false},
                 "axis": {"orient": "right", "tickCount": 30, "tickSize": {"condition": [{"test": "datum.value == 25 || datum.value == 35", "value": -10}, {"test": "datum.value % 5 == 0", "value": -5}], "value": -3}, "labels": false, "title": null}},
           "order": {"field": "t"}
         }},
        {"mark": {"type": "point", "opacity": 0},
         "encoding": {
           "x": {"field": "v", "type": "quantitative", "scale": {"domain": [0, 180], "reverse": true, "nice": false, "zero": false},
                 "axis": {"orient": "top", "values": [0, 22.5, 45, 67.5, 90, 112.5, 135, 157.5, 180], "tickSize": -4, "labels": false, "title": null}},
           "y": {"field": "t", "type": "quantitative", "scale": {"domain": [15, 45], "nice": false, "zero": false},
                 "axis": {"orient": "left", "values": [25, 35], "tickSize": -10, "labels": false, "title": "22.5 (deg)/div", "titleAnchor": "start", "titleFontSize": 13, "titlePadding": 0}}
         }},
        {"mark": {"type": "point", "opacity": 0},
         "encoding": {
           "x": {"field": "v", "type": "quantitative", "scale": {"domain": [0, 180], "reverse": true, "nice": false, "zero": false}, "axis": null},
           "y": {"field": "t", "type": "quantitative", "scale": {"domain": [15, 45], "nice": false, "zero": false},
                 "axis": {"orient": "left", "ticks": false, "labels": false, "title": "2026 08/08 03:15:30UT - 2026 08/08 03:45:29UT", "titleAnchor": "end", "titleFontSize": 14, "titlePadding": 1}}
         }}
      ],
      "resolve": {"axis": {"x": "independent", "y": "independent"}}
    },
    {
      "width": 40, "height": 695, "data": {"name": "ch1"},
      "layer": [
        {"mark": {"type": "line", "color": "#ff0000", "strokeWidth": 1.2, "clip": true},
         "encoding": {
           "x": {"field": "v", "type": "quantitative", "scale": {"domain": [0, 0.5], "reverse": true, "nice": false, "zero": false},
                 "axis": {"orient": "bottom", "values": [0, 0.0625, 0.125, 0.1875, 0.25, 0.3125, 0.375, 0.4375, 0.5], "tickSize": -4, "labelAngle": 270, "labelAlign": "right", "labelBaseline": "middle", "labelPadding": 21, "labelOffset": {"condition": {"test": "datum.value > 0.25", "value": 6}, "value": -5}, "labelExpr": "datum.value > 0.49 ? '0.5' : datum.value < 0.01 ? '0.0' : ''", "title": "CH1(V)", "titleAngle": 180, "titleFontSize": 10, "titleBaseline": "bottom", "titleX": 16, "titleY": 5}},
           "y": {"field": "t", "type": "quantitative", "scale": {"domain": [15, 45], "nice": false, "zero": false},
                 "axis": {"orient": "right", "tickCount": 30, "tickSize": {"condition": [{"test": "datum.value == 25 || datum.value == 35", "value": -10}, {"test": "datum.value % 5 == 0", "value": -5}], "value": -3}, "labels": false, "title": null}},
           "order": {"field": "t"}
         }},
        {"mark": {"type": "point", "opacity": 0},
         "encoding": {
           "x": {"field": "v", "type": "quantitative", "scale": {"domain": [0, 0.5], "reverse": true, "nice": false, "zero": false},
                 "axis": {"orient": "top", "values": [0, 0.0625, 0.125, 0.1875, 0.25, 0.3125, 0.375, 0.4375, 0.5], "tickSize": -4, "labels": false, "title": null}},
           "y": {"field": "t", "type": "quantitative", "scale": {"domain": [15, 45], "nice": false, "zero": false},
                 "axis": {"orient": "left", "values": [25, 35], "tickSize": -10, "labels": false, "title": "0.06 (V)/div", "titleAnchor": "start", "titleFontSize": 13, "titlePadding": 2}}
         }}
      ],
      "resolve": {"axis": {"x": "independent", "y": "independent"}}
    },
    {
      "width": 40, "height": 695, "data": {"name": "ch2"},
      "layer": [
        {"mark": {"type": "line", "color": "#ff0000", "strokeWidth": 1.2, "clip": true},
         "encoding": {
           "x": {"field": "v", "type": "quantitative", "scale": {"domain": [0.1, 0.7], "reverse": true, "nice": false, "zero": false},
                 "axis": {"orient": "bottom", "values": [0.1, 0.175, 0.25, 0.325, 0.4, 0.475, 0.55, 0.625, 0.7], "tickSize": -4, "labelAngle": 270, "labelAlign": "right", "labelBaseline": "middle", "labelPadding": 21, "labelOffset": {"condition": {"test": "datum.value > 0.4", "value": 6}, "value": -5}, "labelExpr": "datum.value > 0.69 ? '0.7' : datum.value < 0.11 ? '0.1' : ''", "title": "CH2(V)", "titleAngle": 180, "titleFontSize": 10, "titleBaseline": "bottom", "titleX": 16, "titleY": 5}},
           "y": {"field": "t", "type": "quantitative", "scale": {"domain": [15, 45], "nice": false, "zero": false},
                 "axis": {"orient": "right", "tickCount": 30, "tickSize": {"condition": [{"test": "datum.value == 25 || datum.value == 35", "value": -10}, {"test": "datum.value % 5 == 0", "value": -5}], "value": -3}, "labels": false, "title": null}},
           "order": {"field": "t"}
         }},
        {"mark": {"type": "point", "opacity": 0},
         "encoding": {
           "x": {"field": "v", "type": "quantitative", "scale": {"domain": [0.1, 0.7], "reverse": true, "nice": false, "zero": false},
                 "axis": {"orient": "top", "values": [0.1, 0.175, 0.25, 0.325, 0.4, 0.475, 0.55, 0.625, 0.7], "tickSize": -4, "labels": false, "title": null}},
           "y": {"field": "t", "type": "quantitative", "scale": {"domain": [15, 45], "nice": false, "zero": false},
                 "axis": {"orient": "left", "values": [25, 35], "tickSize": -10, "labels": false, "title": "0.08 (V)/div", "titleAnchor": "start", "titleFontSize": 13, "titlePadding": 2}}
         }}
      ],
      "resolve": {"axis": {"x": "independent", "y": "independent"}}
    },
    {
      "width": 40, "height": 695, "data": {"name": "ch3"},
      "layer": [
        {"mark": {"type": "line", "color": "#ff0000", "strokeWidth": 1.2, "clip": true},
         "encoding": {
           "x": {"field": "v", "type": "quantitative", "scale": {"domain": [0, 0.6], "reverse": true, "nice": false, "zero": false},
                 "axis": {"orient": "bottom", "values": [0, 0.075, 0.15, 0.225, 0.3, 0.375, 0.45, 0.525, 0.6], "tickSize": -4, "labelAngle": 270, "labelAlign": "right", "labelBaseline": "middle", "labelPadding": 21, "labelOffset": {"condition": {"test": "datum.value > 0.3", "value": 6}, "value": -5}, "labelExpr": "datum.value > 0.59 ? '0.6' : datum.value < 0.01 ? '0.0' : ''", "title": "CH3(V)", "titleAngle": 180, "titleFontSize": 10, "titleBaseline": "bottom", "titleX": 16, "titleY": 5}},
           "y": {"field": "t", "type": "quantitative", "scale": {"domain": [15, 45], "nice": false, "zero": false},
                 "axis": {"orient": "right", "tickCount": 30, "tickSize": {"condition": [{"test": "datum.value == 25 || datum.value == 35", "value": -10}, {"test": "datum.value % 5 == 0", "value": -5}], "value": -3}, "labels": false, "title": null}},
           "order": {"field": "t"}
         }},
        {"mark": {"type": "point", "opacity": 0},
         "encoding": {
           "x": {"field": "v", "type": "quantitative", "scale": {"domain": [0, 0.6], "reverse": true, "nice": false, "zero": false},
                 "axis": {"orient": "top", "values": [0, 0.075, 0.15, 0.225, 0.3, 0.375, 0.45, 0.525, 0.6], "tickSize": -4, "labels": false, "title": null}},
           "y": {"field": "t", "type": "quantitative", "scale": {"domain": [15, 45], "nice": false, "zero": false},
                 "axis": {"orient": "left", "values": [25, 35], "tickSize": -10, "labels": false, "title": "0.07 (V)/div", "titleAnchor": "start", "titleFontSize": 13, "titlePadding": 2}}
         }}
      ],
      "resolve": {"axis": {"x": "independent", "y": "independent"}}
    },
    {
      "width": 40, "height": 695, "data": {"name": "ch4"},
      "layer": [
        {"mark": {"type": "line", "color": "#ff0000", "strokeWidth": 1.2, "clip": true},
         "encoding": {
           "x": {"field": "v", "type": "quantitative", "scale": {"domain": [-0.01, 0.4], "reverse": true, "nice": false, "zero": false},
                 "axis": {"orient": "bottom", "values": [-0.01, 0.04125, 0.0925, 0.14375, 0.195, 0.24625, 0.2975, 0.34875, 0.4], "tickSize": -4, "labelAngle": 270, "labelAlign": "right", "labelBaseline": "middle", "labelPadding": 21, "labelOffset": {"condition": {"test": "datum.value > 0.2", "value": 6}, "value": -5}, "labelExpr": "datum.value > 0.39 ? '0.4' : datum.value < 0 ? '-0.0' : ''", "title": "CH4(V)", "titleAngle": 180, "titleFontSize": 10, "titleBaseline": "bottom", "titleX": 16, "titleY": 5}},
           "y": {"field": "t", "type": "quantitative", "scale": {"domain": [15, 45], "nice": false, "zero": false},
                 "axis": {"orient": "right", "tickCount": 30, "tickSize": {"condition": [{"test": "datum.value == 25 || datum.value == 35", "value": -10}, {"test": "datum.value % 5 == 0", "value": -5}], "value": -3}, "labels": false, "title": null}},
           "order": {"field": "t"}
         }},
        {"mark": {"type": "point", "opacity": 0},
         "encoding": {
           "x": {"field": "v", "type": "quantitative", "scale": {"domain": [-0.01, 0.4], "reverse": true, "nice": false, "zero": false},
                 "axis": {"orient": "top", "values": [-0.01, 0.04125, 0.0925, 0.14375, 0.195, 0.24625, 0.2975, 0.34875, 0.4], "tickSize": -4, "labels": false, "title": null}},
           "y": {"field": "t", "type": "quantitative", "scale": {"domain": [15, 45], "nice": false, "zero": false},
                 "axis": {"orient": "left", "values": [25, 35], "tickSize": -10, "labels": false, "title": "0.05 (V)/div", "titleAnchor": "start", "titleFontSize": 13, "titlePadding": 2}}
         }}
      ],
      "resolve": {"axis": {"x": "independent", "y": "independent"}}
    },
    {
      "width": 40, "height": 695, "data": {"name": "ch5"},
      "layer": [
        {"mark": {"type": "line", "color": "#ff0000", "strokeWidth": 1.2, "clip": true},
         "encoding": {
           "x": {"field": "v", "type": "quantitative", "scale": {"domain": [0.2, 0.8], "reverse": true, "nice": false, "zero": false},
                 "axis": {"orient": "bottom", "values": [0.2, 0.275, 0.35, 0.425, 0.5, 0.575, 0.65, 0.725, 0.8], "tickSize": -4, "labelAngle": 270, "labelAlign": "right", "labelBaseline": "middle", "labelPadding": 21, "labelOffset": {"condition": {"test": "datum.value > 0.5", "value": 6}, "value": -5}, "labelExpr": "datum.value > 0.79 ? '0.8' : datum.value < 0.21 ? '0.2' : ''", "title": "CH5(V)", "titleAngle": 180, "titleFontSize": 10, "titleBaseline": "bottom", "titleX": 16, "titleY": 5}},
           "y": {"field": "t", "type": "quantitative", "scale": {"domain": [15, 45], "nice": false, "zero": false},
                 "axis": {"orient": "right", "tickCount": 30, "tickSize": {"condition": [{"test": "datum.value == 25 || datum.value == 35", "value": -10}, {"test": "datum.value % 5 == 0", "value": -5}], "value": -3}, "labels": false, "title": null}},
           "order": {"field": "t"}
         }},
        {"mark": {"type": "point", "opacity": 0},
         "encoding": {
           "x": {"field": "v", "type": "quantitative", "scale": {"domain": [0.2, 0.8], "reverse": true, "nice": false, "zero": false},
                 "axis": {"orient": "top", "values": [0.2, 0.275, 0.35, 0.425, 0.5, 0.575, 0.65, 0.725, 0.8], "tickSize": -4, "labels": false, "title": null}},
           "y": {"field": "t", "type": "quantitative", "scale": {"domain": [15, 45], "nice": false, "zero": false},
                 "axis": {"orient": "left", "values": [25, 35], "tickSize": -10, "labels": false, "title": "0.08 (V)/div", "titleAnchor": "start", "titleFontSize": 13, "titlePadding": 2}}
         }}
      ],
      "resolve": {"axis": {"x": "independent", "y": "independent"}}
    },
    {
      "width": 40, "height": 695, "data": {"name": "ch6"},
      "layer": [
        {"mark": {"type": "line", "color": "#ff0000", "strokeWidth": 1.2, "clip": true},
         "encoding": {
           "x": {"field": "v", "type": "quantitative", "scale": {"domain": [0, 0.6], "reverse": true, "nice": false, "zero": false},
                 "axis": {"orient": "bottom", "values": [0, 0.075, 0.15, 0.225, 0.3, 0.375, 0.45, 0.525, 0.6], "tickSize": -4, "labelAngle": 270, "labelAlign": "right", "labelBaseline": "middle", "labelPadding": 21, "labelOffset": {"condition": {"test": "datum.value > 0.3", "value": 6}, "value": -5}, "labelExpr": "datum.value > 0.59 ? '0.6' : datum.value < 0.01 ? '0.0' : ''", "title": "CH6(V)", "titleAngle": 180, "titleFontSize": 10, "titleBaseline": "bottom", "titleX": 16, "titleY": 5}},
           "y": {"field": "t", "type": "quantitative", "scale": {"domain": [15, 45], "nice": false, "zero": false},
                 "axis": {"orient": "right", "tickCount": 30, "tickSize": {"condition": [{"test": "datum.value == 25 || datum.value == 35", "value": -10}, {"test": "datum.value % 5 == 0", "value": -5}], "value": -3}, "labels": false, "title": null}},
           "order": {"field": "t"}
         }},
        {"mark": {"type": "point", "opacity": 0},
         "encoding": {
           "x": {"field": "v", "type": "quantitative", "scale": {"domain": [0, 0.6], "reverse": true, "nice": false, "zero": false},
                 "axis": {"orient": "top", "values": [0, 0.075, 0.15, 0.225, 0.3, 0.375, 0.45, 0.525, 0.6], "tickSize": -4, "labels": false, "title": null}},
           "y": {"field": "t", "type": "quantitative", "scale": {"domain": [15, 45], "nice": false, "zero": false},
                 "axis": {"orient": "left", "values": [25, 35], "tickSize": -10, "labels": false, "title": "0.07 (V)/div", "titleAnchor": "start", "titleFontSize": 13, "titlePadding": 2}}
         }}
      ],
      "resolve": {"axis": {"x": "independent", "y": "independent"}}
    },
    {
      "width": 40, "height": 695, "data": {"name": "ch7"},
      "layer": [
        {"mark": {"type": "line", "color": "#ff0000", "strokeWidth": 1.2, "clip": true},
         "encoding": {
           "x": {"field": "v", "type": "quantitative", "scale": {"domain": [0.11, 0.19], "reverse": true, "nice": false, "zero": false},
                 "axis": {"orient": "bottom", "values": [0.11, 0.12, 0.13, 0.14, 0.15, 0.16, 0.17, 0.18, 0.19], "tickSize": -4, "labelAngle": 270, "labelAlign": "right", "labelBaseline": "middle", "labelPadding": 21, "labelOffset": {"condition": {"test": "datum.value > 0.15", "value": 6}, "value": -5}, "labelExpr": "datum.value > 0.189 ? '0.2' : datum.value < 0.111 ? '0.1' : ''", "title": "CH7(V)", "titleAngle": 180, "titleFontSize": 10, "titleBaseline": "bottom", "titleX": 16, "titleY": 5}},
           "y": {"field": "t", "type": "quantitative", "scale": {"domain": [15, 45], "nice": false, "zero": false},
                 "axis": {"orient": "right", "tickCount": 30, "tickSize": {"condition": [{"test": "datum.value == 25 || datum.value == 35", "value": -10}, {"test": "datum.value % 5 == 0", "value": -5}], "value": -3}, "labels": false, "title": null}},
           "order": {"field": "t"}
         }},
        {"mark": {"type": "point", "opacity": 0},
         "encoding": {
           "x": {"field": "v", "type": "quantitative", "scale": {"domain": [0.11, 0.19], "reverse": true, "nice": false, "zero": false},
                 "axis": {"orient": "top", "values": [0.11, 0.12, 0.13, 0.14, 0.15, 0.16, 0.17, 0.18, 0.19], "tickSize": -4, "labels": false, "title": null}},
           "y": {"field": "t", "type": "quantitative", "scale": {"domain": [15, 45], "nice": false, "zero": false},
                 "axis": {"orient": "left", "values": [25, 35], "tickSize": -10, "labels": false, "title": "0.01 (V)/div", "titleAnchor": "start", "titleFontSize": 13, "titlePadding": 2}}
         }}
      ],
      "resolve": {"axis": {"x": "independent", "y": "independent"}}
    },
    {
      "width": 40, "height": 695, "data": {"name": "ch8"},
      "layer": [
        {"mark": {"type": "line", "color": "#ff0000", "strokeWidth": 1.2, "clip": true},
         "encoding": {
           "x": {"field": "v", "type": "quantitative", "scale": {"domain": [0.1, 0.13], "reverse": true, "nice": false, "zero": false},
                 "axis": {"orient": "bottom", "values": [0.1, 0.10375, 0.1075, 0.11125, 0.115, 0.11875, 0.1225, 0.12625, 0.13], "tickSize": -4, "labelAngle": 270, "labelAlign": "right", "labelBaseline": "middle", "labelPadding": 21, "labelOffset": {"condition": {"test": "datum.value > 0.115", "value": 6}, "value": -5}, "labelExpr": "datum.value > 0.129 || datum.value < 0.101 ? '0.1' : ''", "title": "CH8(V)", "titleAngle": 180, "titleFontSize": 10, "titleBaseline": "bottom", "titleX": 16, "titleY": 5}},
           "y": {"field": "t", "type": "quantitative", "scale": {"domain": [15, 45], "nice": false, "zero": false},
                 "axis": {"orient": "right", "tickCount": 30, "tickSize": {"condition": [{"test": "datum.value == 25 || datum.value == 35", "value": -10}, {"test": "datum.value % 5 == 0", "value": -5}], "value": -3}, "labels": true, "labelExpr": "datum.value % 10 == 5 ? '03' + datum.value : ''", "labelAngle": 270, "labelAlign": "center", "labelBaseline": "top", "labelPadding": {"condition": {"test": "datum.value == 25 || datum.value == 35", "value": 13}, "value": 8}, "labelFontSize": 13, "title": null}},
           "order": {"field": "t"}
         }},
        {"mark": {"type": "point", "opacity": 0},
         "encoding": {
           "x": {"field": "v", "type": "quantitative", "scale": {"domain": [0.1, 0.13], "reverse": true, "nice": false, "zero": false},
                 "axis": {"orient": "top", "values": [0.1, 0.10375, 0.1075, 0.11125, 0.115, 0.11875, 0.1225, 0.12625, 0.13], "tickSize": -4, "labels": false, "title": null}},
           "y": {"field": "t", "type": "quantitative", "scale": {"domain": [15, 45], "nice": false, "zero": false},
                 "axis": {"orient": "left", "values": [25, 35], "tickSize": -10, "labels": false, "title": "0.00 (V)/div", "titleAnchor": "start", "titleFontSize": 13, "titlePadding": 2}}
         }}
      ],
      "resolve": {"axis": {"x": "independent", "y": "independent"}}
    }
  ],
  "config": {
    "view": {"stroke": "black", "strokeWidth": 2},
    "font": "Liberation Sans",
    "axis": {"domain": false, "grid": false, "tickColor": "black", "tickWidth": 1.5, "labelFont": "Liberation Sans", "titleFont": "Liberation Sans", "labelColor": "black", "titleColor": "black", "titleFontWeight": "normal", "labelFontSize": 10, "labelFlush": false, "labelOverlap": false, "labelBound": false}
  }
}
